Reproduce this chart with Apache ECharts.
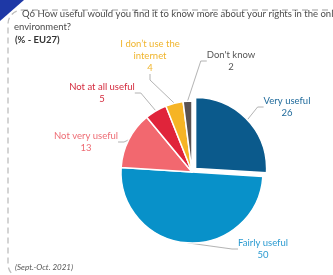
<!DOCTYPE html>
<html>
<head>
<meta charset="utf-8">
<script src="https://cdn.jsdelivr.net/npm/echarts@6/dist/echarts.min.js"></script>
<style>
  html, body { margin: 0; padding: 0; background: #fff; }
  #chart { width: 333px; height: 275px; }
</style>
</head>
<body>
<div id="chart"></div>
<script>
  // answer categories, clockwise from 12 o'clock
  const categories = ['Very useful', 'Fairly useful', 'Not very useful', 'Not at all useful', 'I don\u2019t use the internet', "Don't know"];
  const shares = [26, 50, 13, 5, 4, 2];
  const sliceColors = ['#0b5a8c', '#0891c9', '#f2686f', '#e0243a', '#f6b425', '#5a5252'];
  const labelColors = ['#1f6a9b', '#2b9bd1', '#ee6c74', '#d42b3e', '#f0b52d', '#555555'];

  // label centres (px) for each slice
  const labelPos = [[287, 107], [263, 249], [86, 142], [102, 93], [150, 56], [231, 61]];

  const titleLine1 = 'Q6 How useful would you find it to know more about your rights in the online';
  const titleLine2 = 'environment?';

  const font = 'Lato, "Open Sans", sans-serif';
  const explodedIndex = 0; // "Very useful" is pulled out of the pie

  const chart = echarts.init(document.getElementById('chart'));

  // one pie layer; `onlyExploded` picks which slices this layer shows
  const pieLayer = (center, onlyExploded) => ({
    type: 'pie',
    center: center,
    radius: 71,
    startAngle: 90,
    clockwise: true,
    silent: true,
    label: {
      show: true,
      formatter: (p) => p.name.replace('the internet', 'the\ninternet') + '\n' + p.value,
      fontFamily: font,
      fontSize: 9.5,
      lineHeight: 12,
      align: 'center'
    },
    labelLine: {
      show: true,
      length: 8,
      length2: 6,
      lineStyle: { color: '#a0a0a0', width: 0.8 }
    },
    labelLayout: (params) => {
      const p = labelPos[params.dataIndex];
      return { x: p[0], y: p[1], align: 'center', verticalAlign: 'middle' };
    },
    data: categories.map((name, i) => {
      const visible = (i === explodedIndex) === onlyExploded;
      return {
        name: name,
        value: shares[i],
        itemStyle: visible
          ? { color: sliceColors[i], borderColor: '#fff', borderWidth: 1.5 }
          : { color: 'rgba(0,0,0,0)', borderWidth: 0 },
        label: { show: visible, color: labelColors[i] },
        labelLine: { show: visible }
      };
    })
  });

  const option = {
    animation: false,
    graphic: [
      {
        type: 'rect',
        shape: { x: 8, y: 10, width: 420, height: 268, r: 14 },
        style: { fill: 'none', stroke: '#bdbdbd', lineWidth: 1.3, lineDash: [6, 4] },
        z: 1
      },
      {
        type: 'text',
        left: 22, top: 9,
        style: { text: titleLine1, fill: '#4a4a4a', font: '9.5px ' + font },
        z: 2
      },
      {
        type: 'text',
        left: 14, top: 22,
        style: { text: titleLine2, fill: '#4a4a4a', font: '9.5px ' + font },
        z: 2
      },
      {
        type: 'text',
        left: 15, top: 35,
        style: { text: '(% - EU27)', fill: '#333', font: 'bold 9.5px ' + font },
        z: 2
      },
      {
        type: 'text',
        left: 15, top: 263,
        style: { text: '(Sept.-Oct. 2021)', fill: '#555', font: 'italic 8px ' + font, backgroundColor: '#fff' },
        z: 2
      },
      {
        type: 'polygon',
        shape: { points: [[0, 0], [24, 0], [0, 21]] },
        style: { fill: '#1e38a6' },
        z: 3
      }
    ],
    series: [
      pieLayer([192, 172], false),
      pieLayer([195.6, 168.4], true)
    ]
  };

  chart.setOption(option);
</script>
</body>
</html>
